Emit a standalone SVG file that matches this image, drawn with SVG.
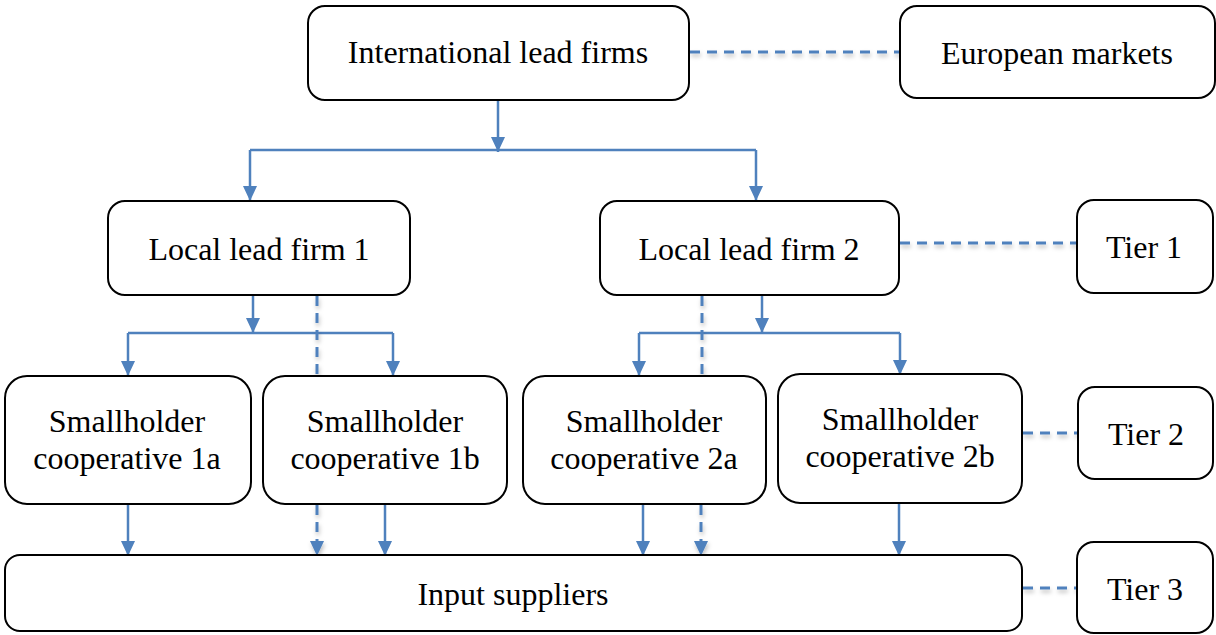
<svg xmlns="http://www.w3.org/2000/svg" width="1216" height="635" viewBox="0 0 1216 635">
  <style>
    .box { fill: #ffffff; stroke: #000000; stroke-width: 2; }
    .lbl { font-family: "Liberation Serif", "Times New Roman", serif; font-size: 32px; fill: #000000; text-anchor: middle; }
    .flow { fill: none; stroke: #4f81bd; stroke-width: 2.5; }
    .link { fill: none; stroke: #4f81bd; stroke-width: 3; stroke-dasharray: 10 7; }
  </style>
  <defs>
    <marker id="head" markerUnits="userSpaceOnUse" markerWidth="15" markerHeight="14" refX="15" refY="7" orient="auto">
      <path d="M0,0 L15,7 L0,14 z" fill="#4f81bd"/>
    </marker>
    <filter id="soft" filterUnits="userSpaceOnUse" x="0" y="0" width="1216" height="635">
      <feDropShadow dx="1" dy="3" stdDeviation="2" flood-color="#000000" flood-opacity="0.25"/>
    </filter>
  </defs>

  <rect width="1216" height="635" fill="#ffffff"/>

  <!-- connectors -->
  <g id="connectors">
    <!-- international lead firms to local lead firms -->
    <line class="flow" x1="498" y1="100" x2="498" y2="152" marker-end="url(#head)"/>
    <polyline class="flow" points="250,150 756,150"/>
    <line class="flow" x1="250" y1="150" x2="250" y2="201" marker-end="url(#head)"/>
    <line class="flow" x1="756" y1="150" x2="756" y2="201" marker-end="url(#head)"/>

    <!-- local lead firm 1 to cooperatives -->
    <line class="flow" x1="253" y1="295" x2="253" y2="333" marker-end="url(#head)"/>
    <polyline class="flow" points="128,333 393,333"/>
    <line class="flow" x1="128" y1="333" x2="128" y2="376" marker-end="url(#head)"/>
    <line class="flow" x1="393" y1="333" x2="393" y2="376" marker-end="url(#head)"/>

    <!-- local lead firm 2 to cooperatives -->
    <line class="flow" x1="762" y1="295" x2="762" y2="333" marker-end="url(#head)"/>
    <polyline class="flow" points="639,333 900,333"/>
    <line class="flow" x1="639" y1="333" x2="639" y2="376" marker-end="url(#head)"/>
    <line class="flow" x1="900" y1="333" x2="900" y2="375" marker-end="url(#head)"/>

    <!-- cooperatives to input suppliers -->
    <line class="flow" x1="128" y1="504" x2="128" y2="556" marker-end="url(#head)"/>
    <line class="flow" x1="385" y1="504" x2="385" y2="556" marker-end="url(#head)"/>
    <line class="flow" x1="643" y1="504" x2="643" y2="556" marker-end="url(#head)"/>
    <line class="flow" x1="899" y1="503" x2="899" y2="556" marker-end="url(#head)"/>

    <!-- dashed associations, with a soft shadow -->
    <g filter="url(#soft)">
      <!-- direct links from local lead firms through to input suppliers -->
      <line class="link" x1="317" y1="296" x2="317" y2="376"/>
      <line class="link" x1="317" y1="505" x2="317" y2="556" marker-end="url(#head)"/>
      <line class="link" x1="702" y1="296" x2="702" y2="376"/>
      <line class="link" x1="701" y1="505" x2="701" y2="556" marker-end="url(#head)"/>

      <!-- tier / market associations -->
      <line class="link" x1="690" y1="52" x2="900" y2="52"/>
      <line class="link" x1="900" y1="243" x2="1077" y2="243"/>
      <line class="link" x1="1023" y1="433" x2="1078" y2="433"/>
      <line class="link" x1="1023" y1="588" x2="1077" y2="588"/>
    </g>
  </g>

  <g id="international-lead-firms">
    <rect class="box" x="308" y="6" width="381" height="94" rx="17"/>
    <text class="lbl" x="498" y="63">International lead firms</text>
  </g>

  <g id="european-markets">
    <rect class="box" x="900" y="6" width="315" height="92" rx="17"/>
    <text class="lbl" x="1057" y="64">European markets</text>
  </g>

  <g id="local-lead-firm-1">
    <rect class="box" x="108" y="201" width="302" height="94" rx="17"/>
    <text class="lbl" x="259" y="260">Local lead firm 1</text>
  </g>

  <g id="local-lead-firm-2">
    <rect class="box" x="600" y="201" width="299" height="94" rx="17"/>
    <text class="lbl" x="749" y="260">Local lead firm 2</text>
  </g>

  <g id="tier-1">
    <rect class="box" x="1077" y="200" width="136" height="93" rx="17"/>
    <text class="lbl" x="1144" y="258">Tier 1</text>
  </g>

  <g id="cooperative-1a">
    <rect class="box" x="5" y="376" width="246" height="128" rx="22"/>
    <text class="lbl" x="127" y="432">Smallholder</text>
    <text class="lbl" x="127" y="469">cooperative 1a</text>
  </g>

  <g id="cooperative-1b">
    <rect class="box" x="263" y="376" width="244" height="128" rx="22"/>
    <text class="lbl" x="385" y="432">Smallholder</text>
    <text class="lbl" x="385" y="469">cooperative 1b</text>
  </g>

  <g id="cooperative-2a">
    <rect class="box" x="523" y="376" width="243" height="128" rx="22"/>
    <text class="lbl" x="644" y="432">Smallholder</text>
    <text class="lbl" x="644" y="469">cooperative 2a</text>
  </g>

  <g id="cooperative-2b">
    <rect class="box" x="778" y="374" width="244" height="129" rx="22"/>
    <text class="lbl" x="900" y="430">Smallholder</text>
    <text class="lbl" x="900" y="467">cooperative 2b</text>
  </g>

  <g id="tier-2">
    <rect class="box" x="1078" y="387" width="135" height="92" rx="17"/>
    <text class="lbl" x="1146" y="445">Tier 2</text>
  </g>

  <g id="input-suppliers">
    <rect class="box" x="5" y="555" width="1017" height="76" rx="15"/>
    <text class="lbl" x="513" y="605">Input suppliers</text>
  </g>

  <g id="tier-3">
    <rect class="box" x="1077" y="542" width="136" height="91" rx="17"/>
    <text class="lbl" x="1145" y="600">Tier 3</text>
  </g>
</svg>
